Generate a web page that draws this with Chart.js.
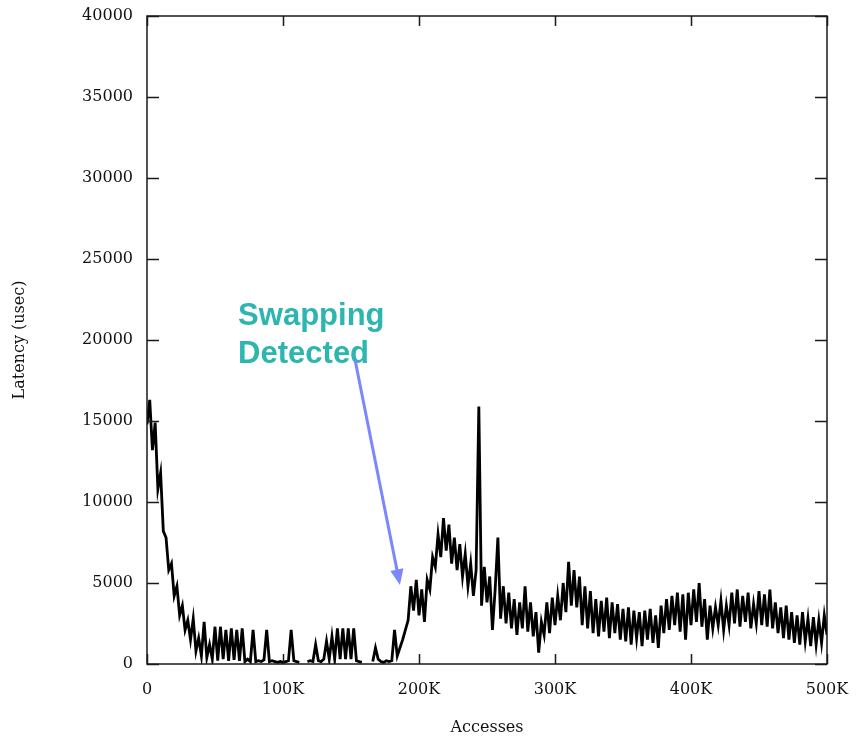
<!DOCTYPE html>
<html>
<head>
<meta charset="utf-8">
<script src="https://cdn.jsdelivr.net/npm/chart.js@4"></script>
<style>
  html, body { margin: 0; padding: 0; background: #fff; }
  canvas { display: block; }
</style>
</head>
<body>
<canvas id="latencyChart" width="857" height="737"></canvas>
<script>
// ==========================
// Data (latency in usec, one sample every 2K accesses)
// ==========================
const xStepK = 2;
const lat0to98K = [
    14800, 16300, 13200, 14900, 10800, 11800, 8200, 7800, 5800, 6200,
    4200, 4800, 3000, 3600, 2100, 2700, 1500, 2800, 800, 1600,
    500, 2600, 400, 1200, 300, 2300, 200, 2300, 300, 2100,
    200, 2200, 250, 2100, 200, 2200, 150, 300, 150, 2100,
    150, 200, 150, 250, 2100, 150, 200, 150, 100, 150
];
const lat100to198K = [
    100, 150, 200, 2100, 200, 150, 100, null, null, 150,
    200, 150, 1200, 200, 150, 300, 1400, 300, 1700, 300,
    2200, 300, 2200, 300, 2200, 300, 2200, 200, 150, 100,
    null, null, null, 150, 1000, 300, 150, 100, 200, 150,
    200, 2100, 500, 1000, 1500, 2100, 2700, 4800, 3300, 5200
];
const lat200to298K = [
    3000, 4600, 2600, 5200, 4600, 6600, 6000, 8000, 6600, 9000,
    7000, 8600, 6200, 7800, 5800, 7400, 5400, 6800, 4800, 6200,
    4200, 5800, 15900, 3600, 6000, 3800, 5400, 2100, 4600, 7800,
    2800, 4800, 2500, 4400, 2200, 4000, 1800, 3800, 2200, 4800,
    2000, 3800, 1700, 3200, 700, 2600, 1800, 3800, 1900, 4100
];
const lat300to398K = [
    2400, 4200, 2700, 5000, 3200, 6300, 3600, 5800, 3500, 5400,
    2400, 4800, 2200, 4500, 1900, 4000, 1700, 3900, 2000, 4100,
    1600, 3800, 1900, 3700, 1500, 3400, 1400, 3500, 1200, 3300,
    1600, 3200, 1100, 3300, 1500, 3400, 1300, 3000, 1000, 3600,
    1900, 4000, 2100, 4200, 2400, 4400, 2000, 4300, 1500, 4400
];
const lat400to500K = [
    2400, 4600, 2600, 5000, 2300, 4000, 1500, 3600, 2200, 3500,
    2400, 3900, 2100, 3600, 2400, 4400, 2500, 4600, 2300, 4200,
    2600, 4400, 2200, 3700, 2500, 4500, 2400, 4300, 2300, 4600,
    2200, 3800, 1900, 3500, 1600, 3600, 1500, 3200, 1300, 3000,
    1200, 3200, 1400, 2800, 1100, 2900, 1200, 2700, 1300, 3000,
    1800
];

const xTickLabels = ['0', '100K', '200K', '300K', '400K', '500K'];
const yTickValues = [0, 5000, 10000, 15000, 20000, 25000, 30000, 35000, 40000];

// annotation anchors, in data units
const noteLines = ['Swapping', 'Detected'];
const noteAt = { x: 67000, y: 20930, lineStep: 2350 };
const arrowFrom = { x: 153000, y: 18770 };
const arrowTo = { x: 186000, y: 4880 };

const latencyUsec = [].concat(lat0to98K, lat100to198K, lat200to298K, lat300to398K, lat400to500K);
const points = latencyUsec.map((v, i) => ({ x: i * xStepK * 1000, y: v }));

// ==========================
// Frame + inward ticks (gnuplot style)
// ==========================
const framePlugin = {
    id: 'frame',
    afterDatasetsDraw(chart) {
        const { ctx, chartArea: a, scales } = chart;
        ctx.save();
        ctx.strokeStyle = '#1a1a1a';
        ctx.lineWidth = 1.5;
        ctx.strokeRect(a.left, a.top, a.right - a.left, a.bottom - a.top);
        ctx.beginPath();
        yTickValues.forEach(v => {
            const y = Math.round(scales.y.getPixelForValue(v)) + 0.5;
            ctx.moveTo(a.left, y); ctx.lineTo(a.left + 12, y);
            ctx.moveTo(a.right, y); ctx.lineTo(a.right - 12, y);
        });
        xTickLabels.forEach((_, i) => {
            const x = Math.round(scales.x.getPixelForValue(i * 100000)) + 0.5;
            ctx.moveTo(x, a.bottom); ctx.lineTo(x, a.bottom - 10);
            ctx.moveTo(x, a.top); ctx.lineTo(x, a.top + 10);
        });
        ctx.stroke();
        ctx.restore();
    }
};

// ==========================
// "Swapping Detected" note + arrow
// ==========================
const notePlugin = {
    id: 'note',
    afterDraw(chart) {
        const { ctx, scales } = chart;
        const px = p => ({ x: scales.x.getPixelForValue(p.x), y: scales.y.getPixelForValue(p.y) });
        ctx.save();
        ctx.fillStyle = '#2db5b0';
        ctx.font = 'bold 31px "Liberation Sans", Arial, sans-serif';
        ctx.textBaseline = 'alphabetic';
        noteLines.forEach((t, i) => {
            const p = px({ x: noteAt.x, y: noteAt.y - i * noteAt.lineStep });
            ctx.fillText(t, p.x, p.y);
        });

        const s = px(arrowFrom), e = px(arrowTo);
        const ang = Math.atan2(e.y - s.y, e.x - s.x);
        const head = 17;
        ctx.strokeStyle = '#7b87ff';
        ctx.fillStyle = '#7b87ff';
        ctx.lineWidth = 3;
        ctx.beginPath();
        ctx.moveTo(s.x, s.y);
        ctx.lineTo(e.x - Math.cos(ang) * head * 0.8, e.y - Math.sin(ang) * head * 0.8);
        ctx.stroke();
        ctx.beginPath();
        ctx.moveTo(e.x, e.y);
        ctx.lineTo(e.x - head * Math.cos(ang - 0.4), e.y - head * Math.sin(ang - 0.4));
        ctx.lineTo(e.x - head * Math.cos(ang + 0.4), e.y - head * Math.sin(ang + 0.4));
        ctx.closePath();
        ctx.fill();
        ctx.restore();
    }
};

// ==========================
// Chart
// ==========================
const tickFont = { family: '"DejaVu Serif", "Liberation Serif", serif', size: 16 };

new Chart(document.getElementById('latencyChart').getContext('2d'), {
    type: 'line',
    data: {
        datasets: [{
            data: points,
            borderColor: '#000',
            borderWidth: 2.8,
            pointRadius: 0,
            tension: 0,
            spanGaps: false
        }]
    },
    options: {
        responsive: false,
        animation: false,
        devicePixelRatio: 1,
        layout: { padding: { top: 16, right: 30, left: 0, bottom: 0 } },
        plugins: { legend: { display: false }, tooltip: { enabled: false } },
        scales: {
            x: {
                type: 'linear',
                min: 0, max: 500000,
                afterFit: s => { s.height = 73; s.paddingLeft = 0; s.paddingRight = 0; },
                afterBuildTicks: s => { s.ticks = xTickLabels.map((_, i) => ({ value: i * 100000 })); },
                grid: { display: false, drawTicks: false },
                border: { display: false },
                ticks: {
                    color: '#111', font: tickFont, padding: 16, maxRotation: 0,
                    callback: v => xTickLabels[Math.round(v / 100000)]
                },
                title: { display: true, text: 'Accesses', color: '#111', font: tickFont, padding: { top: 0, bottom: 0 } }
            },
            y: {
                min: 0, max: 40000,
                afterFit: s => { s.width = 147; s.paddingTop = 0; s.paddingBottom = 0; },
                afterBuildTicks: s => { s.ticks = yTickValues.map(v => ({ value: v })); },
                grid: { display: false, drawTicks: false },
                border: { display: false },
                ticks: { color: '#111', font: tickFont, padding: 14, callback: v => String(v) },
                title: { display: true, text: 'Latency (usec)', color: '#111', font: tickFont, padding: { top: 10, bottom: 0 } }
            }
        }
    },
    plugins: [framePlugin, notePlugin]
});
</script>
</body>
</html>
